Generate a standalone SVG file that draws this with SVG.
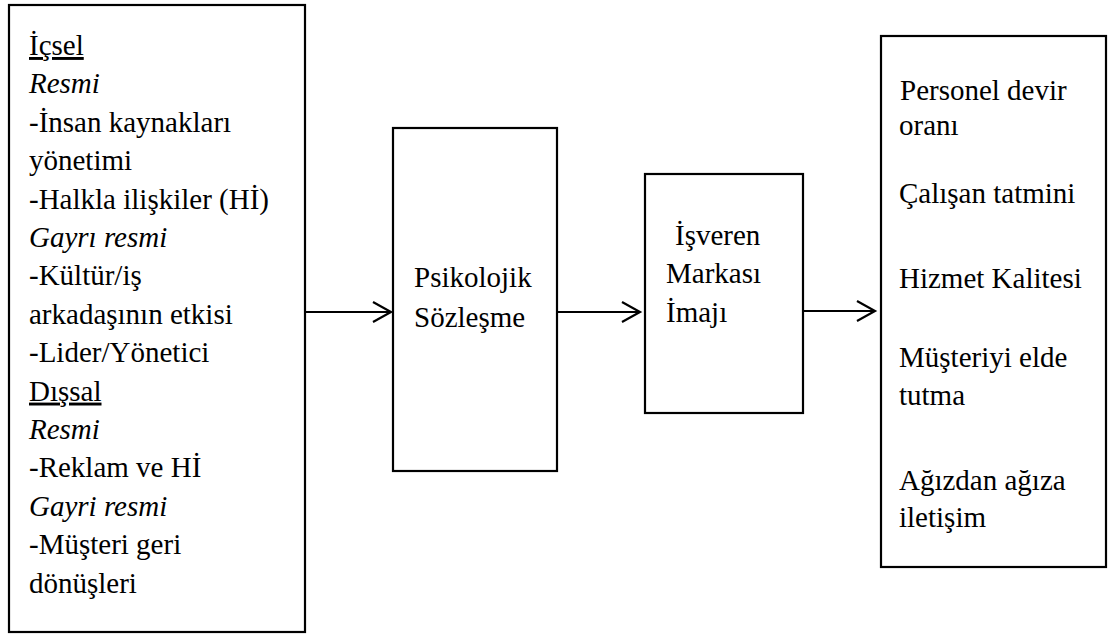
<svg xmlns="http://www.w3.org/2000/svg" width="1108" height="637" viewBox="0 0 1108 637">
  <style>
    .box { fill: #ffffff; stroke: #000000; stroke-width: 2.2; }
    .lbl { font-family: "Liberation Serif", "Times New Roman", "DejaVu Serif", serif; font-size: 29px; fill: #000000; }
    .it { font-style: italic; }
    .ul { text-decoration: underline; }
    .conn { fill: none; stroke: #000000; stroke-width: 2.2; }
  </style>
  <rect width="1108" height="637" fill="#ffffff"/>

  <!-- Sources of employer brand: internal / external -->
  <g id="node-sources">
    <rect class="box" x="9" y="5" width="296" height="627"/>
    <text class="lbl ul" x="29" y="55">İçsel</text>
    <text class="lbl it" x="29" y="93.4">Resmi</text>
    <text class="lbl" x="29" y="131.8">-İnsan kaynakları</text>
    <text class="lbl" x="29" y="170.2">yönetimi</text>
    <text class="lbl" x="29" y="208.6">-Halkla ilişkiler (Hİ)</text>
    <text class="lbl it" x="29" y="247">Gayrı resmi</text>
    <text class="lbl" x="29" y="285.4">-Kültür/iş</text>
    <text class="lbl" x="29" y="323.8">arkadaşının etkisi</text>
    <text class="lbl" x="29" y="362.2">-Lider/Yönetici</text>
    <text class="lbl ul" x="29" y="400.6">Dışsal</text>
    <text class="lbl it" x="29" y="439">Resmi</text>
    <text class="lbl" x="29" y="477.4">-Reklam ve Hİ</text>
    <text class="lbl it" x="29" y="515.8">Gayri resmi</text>
    <text class="lbl" x="29" y="554.2">-Müşteri geri</text>
    <text class="lbl" x="29" y="592.6">dönüşleri</text>
  </g>

  <!-- Psychological contract -->
  <g id="node-contract">
    <rect class="box" x="393" y="128" width="164" height="343"/>
    <text class="lbl" x="414" y="287">Psikolojik</text>
    <text class="lbl" x="414" y="327">Sözleşme</text>
  </g>

  <!-- Employer brand image -->
  <g id="node-brand">
    <rect class="box" x="645" y="174" width="158" height="239"/>
    <text class="lbl" x="675" y="245">İşveren</text>
    <text class="lbl" x="666" y="283">Markası</text>
    <text class="lbl" x="666" y="322">İmajı</text>
  </g>

  <!-- Outcomes -->
  <g id="node-outcomes">
    <rect class="box" x="881" y="36" width="225" height="531"/>
    <text class="lbl" x="900" y="100">Personel devir</text>
    <text class="lbl" x="899" y="135">oranı</text>
    <text class="lbl" x="899" y="203">Çalışan tatmini</text>
    <text class="lbl" x="899" y="288">Hizmet Kalitesi</text>
    <text class="lbl" x="899" y="367">Müşteriyi elde</text>
    <text class="lbl" x="899" y="405">tutma</text>
    <text class="lbl" x="899" y="490">Ağızdan ağıza</text>
    <text class="lbl" x="899" y="527">iletişim</text>
  </g>

  <!-- Connectors with open chevron heads -->
  <g id="connectors">
    <line class="conn" x1="305" y1="312" x2="391" y2="312"/>
    <polyline class="conn" points="373,302 391,312 373,322"/>
    <line class="conn" x1="557" y1="312" x2="640" y2="312"/>
    <polyline class="conn" points="622,302 640,312 622,322"/>
    <line class="conn" x1="803" y1="311" x2="875" y2="311"/>
    <polyline class="conn" points="857,301 875,311 857,321"/>
  </g>
</svg>
